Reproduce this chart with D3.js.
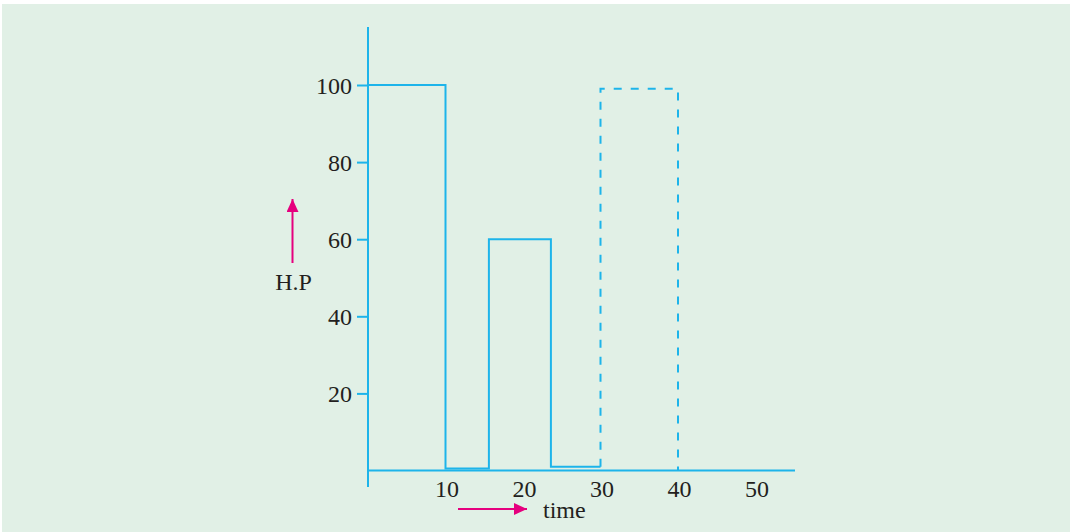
<!DOCTYPE html>
<html>
<head>
<meta charset="utf-8">
<script src="https://cdn.jsdelivr.net/npm/d3@7"></script>
<style>
  html, body { margin: 0; padding: 0; background: #ffffff; }
  svg { display: block; }
  text { font-family: "Liberation Serif", "Times New Roman", serif; fill: #231f20; }
</style>
</head>
<body>
<div id="chart"></div>
<script>
// load curve: time (min) vs horse power
const timeSolid = [0, 10, 15.6, 23.6, 30]
const hpSolid = [100, 0.5, 60, 1, 1]
const timeDashed = [30, 30, 40]
const hpDashed = [1, 99, 0]
const yTicks = [20, 40, 60, 80, 100]
const xTicks = [10, 20, 30, 40, 50]

const width = 1070
const height = 532
const blue = '#1db4ea'
const pink = '#e5007e'

const svg = d3.select('#chart')
  .append('svg')
  .attr('width', width)
  .attr('height', height)

// green panel
svg.append('rect')
  .attr('x', 2)
  .attr('y', 4)
  .attr('width', width - 2)
  .attr('height', height - 4)
  .attr('fill', '#e1f0e6')

const x = d3.scaleLinear().domain([0, 40]).range([368, 678])
const y = d3.scaleLinear().domain([0, 100]).range([470.5, 85])

// y axis ticks + labels
const yAxis = svg.append('g')
  .attr('transform', `translate(${x(0)},0)`)
  .call(d3.axisLeft(y).tickValues(yTicks).tickSize(11).tickPadding(5))
yAxis.select('.domain').remove()
yAxis.selectAll('line').attr('stroke', blue).attr('stroke-width', 2)
yAxis.selectAll('text')
  .style('font-size', '24px')
  .style('font-family', '"Liberation Serif", serif')
  .attr('fill', '#231f20')
  .attr('dy', '0.34em')

// x axis labels (no tick marks)
const xAxis = svg.append('g')
  .attr('transform', `translate(1,${y(0)})`)
  .call(d3.axisBottom(x).tickValues(xTicks).tickSize(0).tickPadding(9.5))
xAxis.select('.domain').remove()
xAxis.selectAll('text')
  .style('font-size', '24px')
  .style('font-family', '"Liberation Serif", serif')
  .attr('fill', '#231f20')

// axis lines
svg.append('line')
  .attr('x1', x(0)).attr('x2', x(0))
  .attr('y1', 27).attr('y2', 487)
  .attr('stroke', blue).attr('stroke-width', 2)
svg.append('line')
  .attr('x1', x(0)).attr('x2', 795)
  .attr('y1', y(0)).attr('y2', y(0))
  .attr('stroke', blue).attr('stroke-width', 2)

const line = d3.line()
  .x(d => x(d[0]))
  .y(d => y(d[1]))
  .curve(d3.curveStepAfter)

svg.append('path')
  .datum(d3.zip(timeSolid, hpSolid))
  .attr('d', line)
  .attr('fill', 'none')
  .attr('stroke', blue)
  .attr('stroke-width', 2)

svg.append('path')
  .datum(d3.zip(timeDashed, hpDashed))
  .attr('d', line)
  .attr('fill', 'none')
  .attr('stroke', blue)
  .attr('stroke-width', 2)
  .attr('stroke-dasharray', '8,9')

// arrows
const defs = svg.append('defs')
defs.append('marker')
  .attr('id', 'head')
  .attr('viewBox', '0 -6 13 12')
  .attr('refX', 13)
  .attr('refY', 0)
  .attr('markerUnits', 'userSpaceOnUse')
  .attr('markerWidth', 13)
  .attr('markerHeight', 12)
  .attr('orient', 'auto')
  .append('path')
  .attr('d', 'M0,-6L13,0L0,6Z')
  .attr('fill', pink)

svg.append('line')
  .attr('x1', 292.5).attr('y1', 263)
  .attr('x2', 292.5).attr('y2', 199)
  .attr('stroke', pink).attr('stroke-width', 2)
  .attr('marker-end', 'url(#head)')

svg.append('line')
  .attr('x1', 458).attr('y1', 509)
  .attr('x2', 527).attr('y2', 509)
  .attr('stroke', pink).attr('stroke-width', 2)
  .attr('marker-end', 'url(#head)')

svg.append('text')
  .attr('x', 293.5)
  .attr('y', 290)
  .attr('text-anchor', 'middle')
  .style('font-size', '24px')
  .text('H.P')

svg.append('text')
  .attr('x', 543)
  .attr('y', 518)
  .style('font-size', '24px')
  .text('time')
</script>
</body>
</html>
